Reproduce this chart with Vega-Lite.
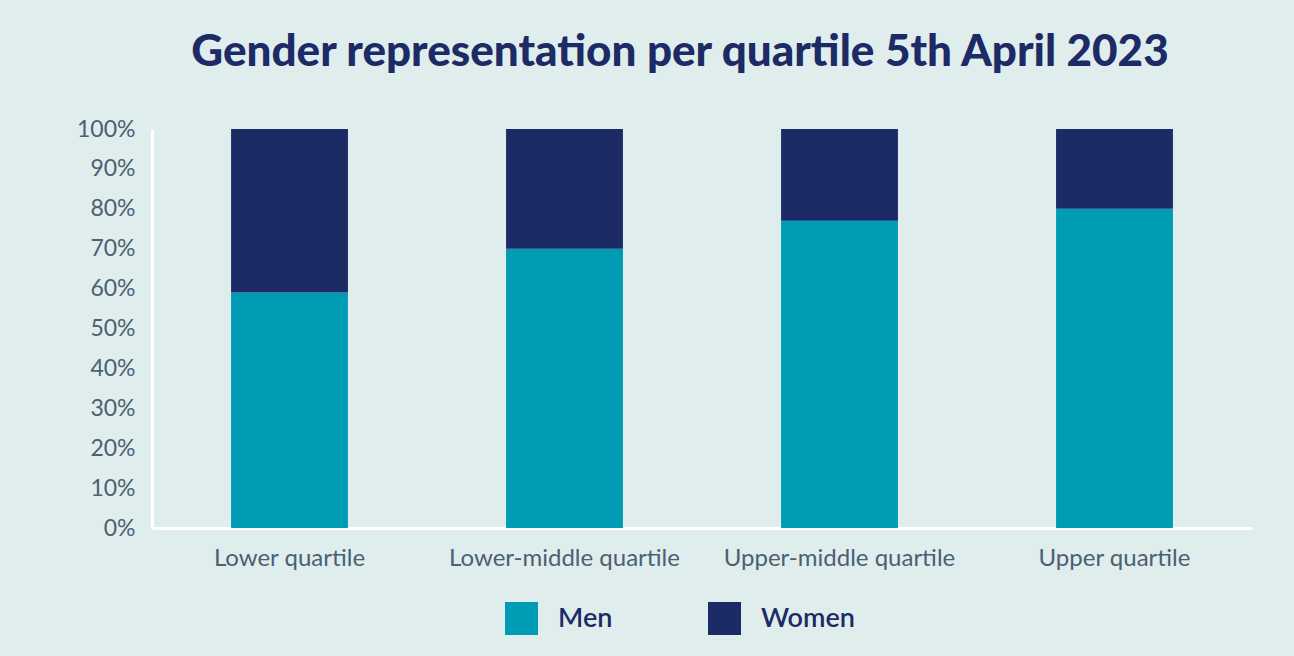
{
  "$schema": "https://vega.github.io/schema/vega-lite/v6.json",
  "autosize": "none",
  "width": 1100,
  "height": 399,
  "padding": {"left": 152, "top": 129, "right": 42, "bottom": 128},
  "background": "#dfeeed",
  "title": {
    "text": "Gender representation per quartile 5th April 2023",
    "font": "Lato",
    "fontSize": 44,
    "fontWeight": 900,
    "color": "#1c2a66",
    "anchor": "middle",
    "dx": -22,
    "offset": 43
  },
  "data": {
    "values": [
      {"quartile": "Lower quartile", "gender": "Men", "share": 0.59},
      {"quartile": "Lower quartile", "gender": "Women", "share": 0.41},
      {"quartile": "Lower-middle quartile", "gender": "Men", "share": 0.70},
      {"quartile": "Lower-middle quartile", "gender": "Women", "share": 0.30},
      {"quartile": "Upper-middle quartile", "gender": "Men", "share": 0.77},
      {"quartile": "Upper-middle quartile", "gender": "Women", "share": 0.23},
      {"quartile": "Upper quartile", "gender": "Men", "share": 0.80},
      {"quartile": "Upper quartile", "gender": "Women", "share": 0.20}
    ]
  },
  "mark": {"type": "bar"},
  "encoding": {
    "x": {
      "field": "quartile",
      "type": "nominal",
      "sort": null,
      "scale": {"paddingInner": 0.575, "paddingOuter": 0.2875},
      "axis": {
        "title": null,
        "labelAngle": 0,
        "labelFont": "Lato",
        "labelFontSize": 24,
        "labelColor": "#4a6073",
        "labelPadding": 18,
        "labelLimit": 0,
        "ticks": false,
        "domainColor": "#ffffff",
        "domainWidth": 3
      }
    },
    "y": {
      "field": "share",
      "type": "quantitative",
      "stack": "zero",
      "scale": {"domain": [0, 1]},
      "axis": {
        "title": null,
        "values": [0, 0.1, 0.2, 0.3, 0.4, 0.5, 0.6, 0.7, 0.8, 0.9, 1],
        "format": ".0%",
        "grid": false,
        "ticks": false,
        "labelFont": "Lato",
        "labelFontSize": 23,
        "labelColor": "#4a6073",
        "labelPadding": 17,
        "domainColor": "#ffffff",
        "domainWidth": 3
      }
    },
    "color": {
      "field": "gender",
      "type": "nominal",
      "scale": {"domain": ["Men", "Women"], "range": ["#009bb4", "#1c2a66"]},
      "legend": {
        "title": null,
        "orient": "none",
        "direction": "horizontal",
        "legendX": 353,
        "legendY": 473,
        "symbolType": "square",
        "symbolSize": 1089,
        "symbolStrokeWidth": 0,
        "symbolOpacity": 1,
        "labelFont": "Lato",
        "labelFontSize": 27,
        "labelFontWeight": 600,
        "labelColor": "#1c2a66",
        "labelOffset": 20,
        "columnPadding": 95,
        "padding": 0
      }
    },
    "order": {"field": "gender", "sort": "ascending"}
  },
  "config": {"view": {"stroke": null}}
}
